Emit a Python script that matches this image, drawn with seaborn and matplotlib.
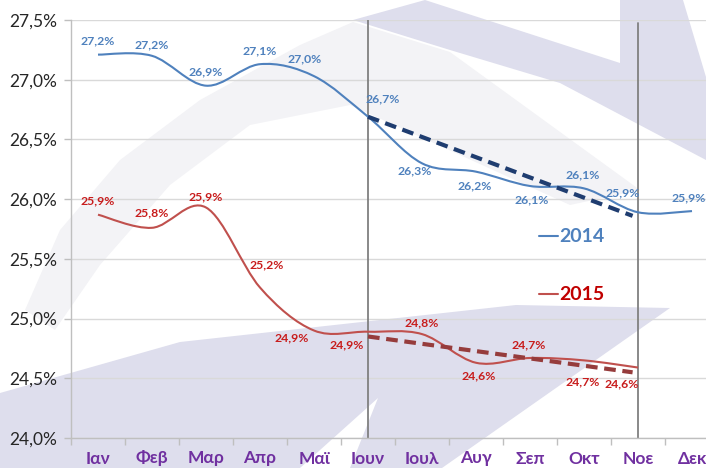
import matplotlib
matplotlib.use("Agg")
import matplotlib.pyplot as plt
import numpy as np
import pandas as pd
import seaborn as sns
from matplotlib.path import Path
from matplotlib.patches import PathPatch, Polygon
from matplotlib.lines import Line2D
from matplotlib.ticker import FuncFormatter, FixedLocator

months = ['Ιαν', 'Φεβ', 'Μαρ', 'Απρ', 'Μαϊ', 'Ιουν', 'Ιουλ', 'Αυγ', 'Σεπ', 'Οκτ', 'Νοε', 'Δεκ']
rate_2014 = [27.21, 27.20, 26.95, 27.13, 27.03, 26.69, 26.30, 26.23, 26.11, 26.09, 25.89, 25.90]
rate_2015 = [25.87, 25.76, 25.93, 25.26, 24.90, 24.89, 24.87, 24.63, 24.67, 24.65, 24.59]
labels_2014 = ['27,2%', '27,2%', '26,9%', '27,1%', '27,0%', '26,7%', '26,3%', '26,2%', '26,1%', '26,1%', '25,9%', '25,9%']
labels_2015 = ['25,9%', '25,8%', '25,9%', '25,2%', '24,9%', '24,9%', '24,8%', '24,6%', '24,7%', '24,7%', '24,6%']
trend_x = [5, 9.9]
trend_2014 = [26.69, 25.86]
trend_2015 = [24.85, 24.55]

# label offsets in pixels (dx, dy)
off_2014 = [(0, 14), (0, 11), (0, 14), (0, 13), (-9, 17), (15, 18), (-7, -8),
            (-1, -14), (2, -14), (-1, 14), (-15, 19), (-3, 13)]
off_2015 = [(0, 14), (0, 15), (0, 11), (7, 23), (-22, -7), (-21, -13), (0, 11),
            (3, -13), (-1, 13), (-1, -21), (-16, -16)]

blue = '#4f81bd'
red = '#c0504d'
blue_txt = '#4f81bd'
red_txt = '#c81c1c'
purple = '#7030a0'

sns.set_theme(style="white")
plt.rcParams['font.family'] = ['Lato', 'DejaVu Sans']

W, H = 706, 468
fig = plt.figure(figsize=(W / 100, H / 100), dpi=100)
fig.patch.set_facecolor('white')


def px(points):
    return [(x / W, 1 - y / H) for x, y in points]


# watermark logo in the background
light = [(25, 310), (60, 230), (120, 160), (200, 100), (300, 45), (353, 22),
         (450, 52), (640, 190), (570, 205), (350, 105), (250, 125), (170, 185),
         (100, 265), (55, 330)]
upper = [(353, 20), (425, 0), (620, 63), (620, 0), (683, 0), (706, 77),
         (706, 160), (560, 83), (450, 50)]
lower = [(0, 393), (180, 342), (516, 305), (670, 308), (442, 468), (350, 468),
         (378, 398), (300, 468), (0, 468)]
fig.add_artist(Polygon(px(light), closed=True, transform=fig.transFigure,
                       facecolor='#f3f3f6', edgecolor='none', zorder=-3))
for shape in (upper, lower):
    fig.add_artist(Polygon(px(shape), closed=True, transform=fig.transFigure,
                           facecolor='#dedeed', edgecolor='none', zorder=-2))

ax = fig.add_axes([71 / W, 30 / H, 648 / W, 418 / H])
ax.set_facecolor('none')
ax.set_xlim(-0.5, 11.5)
ax.set_ylim(24, 27.5)


def smooth_path(xs, ys):
    pts = np.column_stack([xs, ys])
    n = len(pts)
    verts = [pts[0]]
    codes = [Path.MOVETO]
    for i in range(n - 1):
        p0 = pts[i - 1] if i > 0 else pts[i]
        p1 = pts[i]
        p2 = pts[i + 1]
        p3 = pts[i + 2] if i + 2 < n else pts[i + 1]
        c1 = p1 + (p2 - p0) / 6
        c2 = p2 - (p3 - p1) / 6
        verts += [c1, c2, p2]
        codes += [Path.CURVE4] * 3
    return Path(verts, codes)


df14 = pd.DataFrame({'m': range(len(rate_2014)), 'v': rate_2014})
df15 = pd.DataFrame({'m': range(len(rate_2015)), 'v': rate_2015})

for df, col in ((df14, blue), (df15, red)):
    ax.add_patch(PathPatch(smooth_path(df['m'], df['v']), fill=False,
                           edgecolor=col, lw=1.5, zorder=3))

sns.lineplot(x=trend_x, y=trend_2014, ax=ax, color='#1f3d70', lw=3,
             linestyle=(0, (2.8, 1.6)), zorder=4)
sns.lineplot(x=trend_x, y=trend_2015, ax=ax, color='#963c3c', lw=3,
             linestyle=(0, (2.8, 1.6)), zorder=4)

for df, labs, offs, col in ((df14, labels_2014, off_2014, blue_txt),
                            (df15, labels_2015, off_2015, red_txt)):
    for (m, v), lab, (dx, dy) in zip(df[['m', 'v']].values, labs, offs):
        ax.annotate(lab, (m, v), xytext=(dx, dy), textcoords='offset pixels',
                    ha='center', va='center', fontsize=8.8, fontweight='bold',
                    color=col, zorder=5)

ax.axvline(5, color='#808080', lw=1.3, zorder=2)
ax.axvline(10, ymax=(438 - 23) / 418, color='#808080', lw=1.3, zorder=2)

ax.yaxis.set_major_locator(FixedLocator(np.arange(24, 27.51, 0.5)))
ax.yaxis.set_major_formatter(FuncFormatter(lambda v, p: f"{v:.1f}%".replace('.', ',')))
ax.grid(axis='y', color='#d9d9d9', lw=1)
ax.set_axisbelow(True)

ax.set_xticks(range(len(months)))
ax.set_xticklabels(months)
ax.set_xticks(np.arange(-0.5, 12, 1), minor=True)
ax.tick_params(axis='x', which='major', length=0, pad=9, labelsize=12.5,
               labelcolor=purple)
ax.tick_params(axis='x', which='minor', length=5, color='#bfbfbf', width=1,
               direction='out', bottom=True)
for t in ax.get_xticklabels():
    t.set_fontweight('bold')
ax.tick_params(axis='y', length=5, color='#bfbfbf', width=1, direction='out',
               left=True, pad=5, labelsize=12.5, labelcolor='#262626')

for s in ('top', 'right'):
    ax.spines[s].set_visible(False)
for s in ('left', 'bottom'):
    ax.spines[s].set_color('#bfbfbf')
    ax.spines[s].set_linewidth(1)

# legend drawn as in the original: short line + bold year
for yy, col, tcol, name in ((236, blue, '#4f81bd', '2014'), (294, red, '#c00000', '2015')):
    fig.add_artist(Line2D([539 / W, 558 / W], [1 - yy / H] * 2, color=col, lw=1.5,
                          transform=fig.transFigure))
    fig.text(559 / W, 1 - yy / H, name, color=tcol, fontsize=14, fontweight='bold',
             ha='left', va='center')

fig.savefig('out.png', dpi=100)
